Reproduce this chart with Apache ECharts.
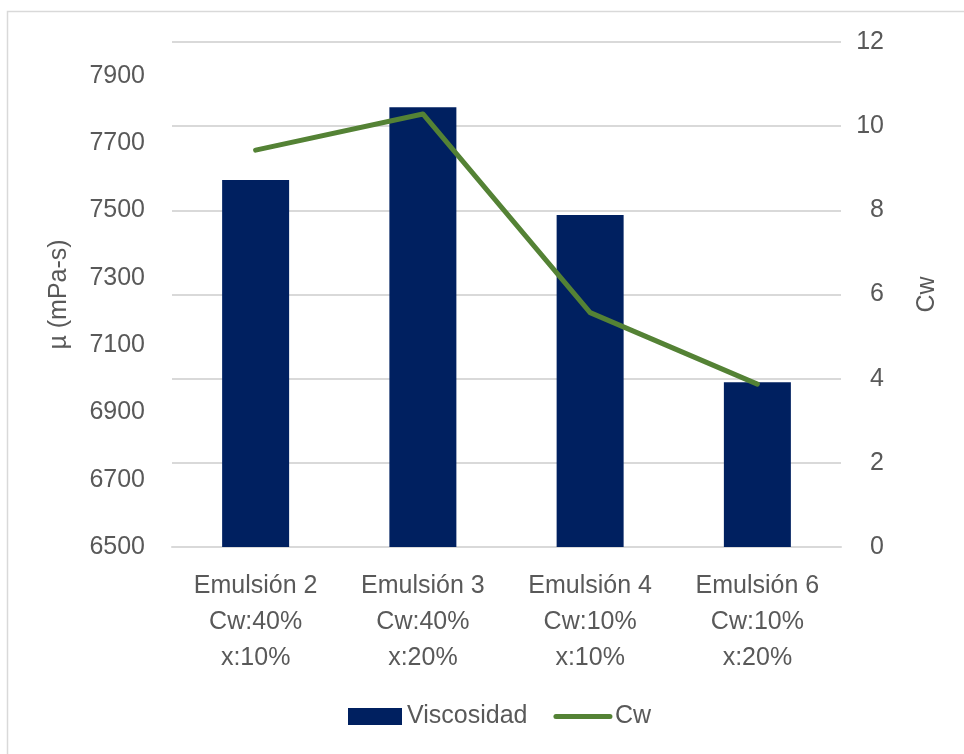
<!DOCTYPE html>
<html>
<head>
<meta charset="utf-8">
<script src="https://cdn.jsdelivr.net/npm/echarts@6/dist/echarts.min.js"></script>
<style>
  html, body { margin: 0; padding: 0; background: #fff; }
  #chart { width: 964px; height: 754px; }
</style>
</head>
<body>
<div id="chart"></div>
<script>
// Emulsion samples (three-line category labels)
const categories = [
  'Emulsión 2\nCw:40%\nx:10%',
  'Emulsión 3\nCw:40%\nx:20%',
  'Emulsión 4\nCw:10%\nx:10%',
  'Emulsión 6\nCw:10%\nx:20%'
];
// Viscosity in mPa-s (left axis)
const viscosidad = [7590, 7806, 7486, 6989];
// Cw values (right axis)
const cw = [9.43, 10.29, 5.57, 3.87];

const textColor = '#595959';
const gridColor = '#D9D9D9';
const fontFamily = '"Liberation Sans", Arial, sans-serif';
const fs = 25;

const chart = echarts.init(document.getElementById('chart'));
chart.setOption({
  animation: false,
  textStyle: { fontFamily: fontFamily, color: textColor },
  graphic: [{
    type: 'rect',
    shape: { x: 7.5, y: 11.5, width: 1000, height: 800 },
    style: { fill: 'none', stroke: gridColor, lineWidth: 1.5 },
    silent: true
  }],
  grid: { left: 172, right: 123, top: 42, bottom: 207 },
  legend: {
    bottom: 20,
    left: 343,
    itemWidth: 54,
    itemHeight: 17,
    itemGap: 26,
    textStyle: { fontSize: fs, color: textColor, fontFamily: fontFamily },
    lineStyle: { width: 'inherit', cap: 'round' },
    data: [
      { name: 'Viscosidad', icon: 'rect' },
      { name: 'Cw', itemStyle: { color: 'rgba(0,0,0,0)', borderWidth: 0 } }
    ]
  },
  xAxis: {
    type: 'category',
    data: categories,
    axisTick: { show: false },
    axisLine: { lineStyle: { color: gridColor, width: 2 } },
    axisLabel: {
      fontSize: fs,
      lineHeight: 36,
      margin: 21,
      color: textColor,
      fontFamily: fontFamily,
      interval: 0
    }
  },
  yAxis: [{
    type: 'value',
    name: 'µ (mPa-s)',
    nameLocation: 'middle',
    nameGap: 100,
    nameTextStyle: { fontSize: fs, color: textColor, fontFamily: fontFamily },
    min: 6500,
    max: 8000,
    interval: 200,
    splitLine: { show: false },
    axisLine: { show: false },
    axisTick: { show: false },
    axisLabel: {
      fontSize: fs,
      margin: 27,
      color: textColor,
      fontFamily: fontFamily,
      formatter: function (v) { return v >= 8000 ? '' : String(v); }
    }
  }, {
    type: 'value',
    name: 'Cw',
    nameLocation: 'middle',
    nameGap: 74,
    nameTextStyle: { fontSize: fs, color: textColor, fontFamily: fontFamily },
    min: 0,
    max: 12,
    interval: 2,
    position: 'right',
    splitLine: { show: true, lineStyle: { color: gridColor, width: 2 } },
    axisLine: { show: false },
    axisTick: { show: false },
    axisLabel: {
      fontSize: fs,
      margin: 43,
      align: 'right',
      color: textColor,
      fontFamily: fontFamily
    }
  }],
  series: [{
    name: 'Viscosidad',
    type: 'bar',
    yAxisIndex: 0,
    data: viscosidad,
    barWidth: 67,
    itemStyle: { color: '#002060' }
  }, {
    name: 'Cw',
    type: 'line',
    yAxisIndex: 1,
    data: cw,
    symbol: 'none',
    lineStyle: { color: '#548235', width: 5, cap: 'round', join: 'round' },
    itemStyle: { color: '#548235' }
  }]
});
</script>
</body>
</html>
